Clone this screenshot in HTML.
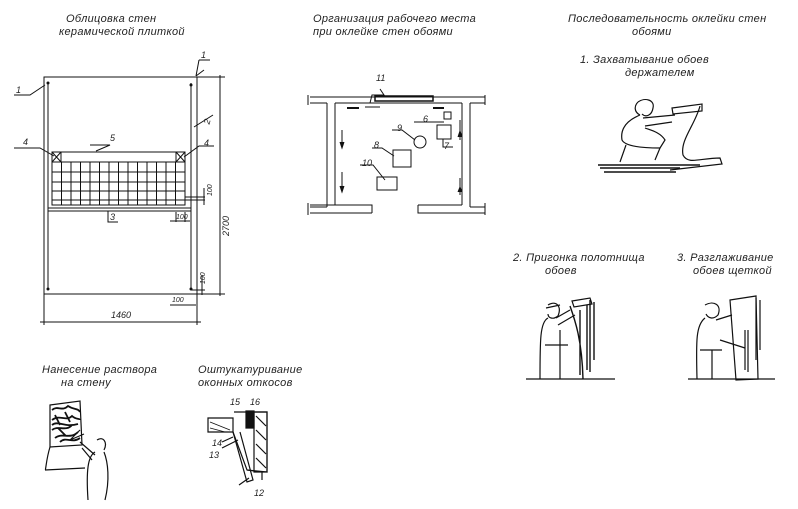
<!DOCTYPE html>
<html><head><meta charset="utf-8"><style>
html,body{margin:0;padding:0;background:#fff;}
svg{display:block;}
text{font-family:"Liberation Sans",sans-serif;font-style:italic;fill:#222;}
</style></head><body>
<svg width="798" height="509" viewBox="0 0 798 509" xmlns="http://www.w3.org/2000/svg" stroke="#111" fill="none" stroke-width="1">
<g stroke="none" font-size="11" letter-spacing="0.3">
<text x="66" y="22">Облицовка  стен</text>
<text x="59" y="35">керамической плиткой</text>
<text x="313" y="22">Организация рабочего места</text>
<text x="313" y="35">при  оклейке  стен  обоями</text>
<text x="568" y="22">Последовательность оклейки стен</text>
<text x="632" y="35">обоями</text>
<text x="580" y="63">1. Захватывание  обоев</text>
<text x="625" y="76">держателем</text>
<text x="513" y="261">2.  Пригонка полотнища</text>
<text x="545" y="274">обоев</text>
<text x="677" y="261">3. Разглаживание</text>
<text x="693" y="274">обоев щеткой</text>
<text x="42" y="373">Нанесение раствора</text>
<text x="61" y="386">на стену</text>
<text x="198" y="373">Оштукатуривание</text>
<text x="198" y="386">оконных  откосов</text>
</g>

<!-- Drawing 1 -->
<rect x="44" y="77" width="153" height="217"/>
<line x1="48" y1="83" x2="48" y2="289"/>
<line x1="191" y1="83" x2="191" y2="289"/>
<g fill="#111" stroke="none"><circle cx="48" cy="83" r="1.5"/><circle cx="191" cy="85" r="1.5"/><circle cx="48" cy="289" r="1.5"/><circle cx="191" cy="289" r="1.5"/></g>
<rect x="52" y="152" width="133" height="53"/>
<line x1="52" y1="162" x2="185" y2="162"/>
<path d="M52 172H185M52 182H185M52 191H185M52 200H185"/>
<path d="M61.5 162V205M71 162V205M80.5 162V205M90 162V205M99.5 162V205M109 162V205M118.5 162V205M128 162V205M137.5 162V205M147 162V205M156.5 162V205M166 162V205M175.5 162V205"/>
<rect x="52" y="152" width="9" height="10"/><path d="M52 152L61 162M61 152L52 162"/>
<rect x="176" y="152" width="9" height="10"/><path d="M176 152L185 162M185 152L176 162"/>
<line x1="48" y1="208" x2="191" y2="208"/><line x1="48" y1="211" x2="191" y2="211"/>
<path d="M14 95H30L45 85"/><path d="M199 60H210M199 60L196 76M196 76L204 70"/>
<path d="M14 148H40L54 156"/><path d="M214 146L199 146L184 157"/>
<path d="M90 145H110L96 151"/><path d="M194 127L213 115"/>
<path d="M108 211V222H118"/>
<path d="M196 77H225M196 294H225M220 75V296"/>
<path d="M185 197H205M185 200H205M204 188V205"/>
<path d="M176 212V222M185 212V222M170 221H190"/>
<path d="M191 290H205M202 275V295"/>
<path d="M44 294V325M197 294V325M40 322H201"/>
<path d="M170 305H196"/>
<g stroke="none" font-size="9">
<text x="16" y="93">1</text><text x="201" y="58">1</text>
<text x="23" y="145">4</text><text x="204" y="146">4</text>
<text x="110" y="141">5</text><text x="205" y="125" transform="rotate(-75 207 122)">2</text>
<text x="110" y="220">3</text>
<text x="176" y="219" font-size="7">100</text>
<text x="205" y="197" font-size="7" transform="rotate(-90 208 193)">100</text>
<text x="199" y="284" font-size="7" transform="rotate(-90 202 281)">100</text>
<text x="172" y="302" font-size="7">100</text>
<text x="225" y="232" transform="rotate(-90 229 232)">2700</text>
<text x="111" y="318">1460</text>
</g>

<!-- Drawing 2 -->
<path d="M310 97H485M310 103H327M335 103H462M470 103H485"/>
<path d="M327 103V207M335 103V205M462 103V205M470 103V207"/>
<path d="M310 205H335M310 207H327M310 213H372M335 205H372V213"/>
<path d="M418 205H462M470 207H485M418 205V213H485"/>
<rect x="375" y="96" width="58" height="5" stroke-width="1.5"/>
<path d="M308 95V105M485 95V105M308 203V215M485 203V215"/>
<path d="M370 103L372 95H384L380 89"/><line x1="365" y1="107" x2="380" y2="107"/>
<path d="M347 108H359" stroke-width="2"/><path d="M433 108H444" stroke-width="2"/>
<path d="M342 130V145M342 172V190M460 120V140M460 178V195" /><path d="M340 142L342 148L344 142M340 186L342 192L344 186M458 137L460 131 462 137M458 192L460 187 462 192" fill="#111"/>
<rect x="444" y="112" width="7" height="7"/><path d="M414 122H444"/>
<rect x="437" y="125" width="14" height="14"/><path d="M443 139V147H453"/>
<circle cx="420" cy="142" r="6"/><path d="M392 130H402L415 140"/>
<rect x="393" y="150" width="18" height="17"/><path d="M372 148H382L394 156"/>
<rect x="377" y="177" width="20" height="13"/><path d="M360 165H373L385 180"/>
<g stroke="none" font-size="9"><text x="376" y="81">11</text><text x="423" y="122">6</text><text x="444" y="149">7</text><text x="397" y="131">9</text><text x="374" y="148">8</text><text x="362" y="166">10</text></g>

<!-- Figure 1 -->
<g stroke-width="1.2">
<path d="M598 165H700M600 168H680M604 172H676" stroke-width="1.6"/>
<path d="M638 102C645 97 655 100 653 108C652 115 646 118 642 114"/>
<path d="M638 102C634 106 634 112 640 115"/>
<path d="M640 115C628 120 620 128 622 140C625 146 640 148 660 148L665 140C660 132 650 130 645 128"/>
<path d="M643 118L675 115M645 126L672 122"/>
<path d="M672 108L702 104L702 111L673 114Z"/>
<path d="M700 106C695 125 680 140 683 155C688 165 700 158 720 158L722 164L670 170"/>
<path d="M626 145L620 162M660 148L655 160"/>
</g>

<!-- Figure 2 -->
<g stroke-width="1.2">
<path d="M526 379H615"/>
<path d="M572 301L590 298L592 304L574 307Z"/>
<path d="M590 300V372M587 305V370M594 302V360M580 310V375M570 306C575 320 582 340 583 379" stroke-width="1.4"/>
<path d="M548 305C556 300 562 306 558 316C553 320 548 318 548 314"/>
<path d="M546 308L560 305"/>
<path d="M548 318C540 322 540 340 540 379M556 318L570 310M558 325L575 315M545 345H568M560 330V379"/>
</g>

<!-- Figure 3 -->
<g stroke-width="1.2">
<path d="M688 379H775"/>
<path d="M730 300L756 296L758 379L736 380Z"/>
<path d="M756 298V360M760 300V350M745 330V370M748 330V372"/>
<path d="M705 305C714 300 722 305 718 315C713 320 708 318 706 314"/>
<path d="M705 318C696 325 696 340 697 379M716 320L732 315M720 340L745 348M700 350H722M712 350V379"/>
</g>

<!-- Figure 4 -->
<g stroke-width="1.2">
<path d="M50 405L80 401L82 445L50 447Z"/>
<path d="M52 410C58 405 62 412 68 406C74 410 78 408 80 412M52 420C60 414 66 422 72 416C76 420 80 418 80 420M52 430C58 425 66 432 72 425M55 438C62 432 70 440 78 432M55 415L60 425M65 412L70 422M58 428L66 436M52 425C58 420 64 428 78 424M60 442C66 436 72 444 80 438" stroke-width="1.8"/>
<path d="M50 447C46 460 46 470 45 470L85 468"/>
<path d="M70 440L80 430M70 440L84 434"/>
<path d="M97 440C103 436 108 442 104 450M95 452C88 456 86 470 88 500M104 452C108 462 110 480 105 500M80 442L95 455M82 448L92 460"/>
</g>

<!-- Figure 5 -->
<g stroke-width="1.2">
<path d="M208 418H233V432H208Z"/>
<path d="M210 422L230 430M210 428L225 432" stroke-width="0.8"/>
<path d="M234 412H267V472L247 470L233 432"/>
<path d="M246 411H254V428H246Z" fill="#111"/>
<path d="M254 412H267V472H254Z"/>
<path d="M256 416L266 426M256 430L266 440M256 444L266 454M256 458L266 468"/>
<path d="M233 432L247 482L253 480L240 432"/>
<path d="M247 470L262 472V480"/>
<path d="M222 442L233 437M222 448L238 440M239 485L249 478"/>
</g>
<g stroke="none" font-size="9"><text x="230" y="405">15</text><text x="250" y="405">16</text><text x="212" y="446">14</text><text x="209" y="458">13</text><text x="254" y="496">12</text></g>
</svg>
</body></html>
